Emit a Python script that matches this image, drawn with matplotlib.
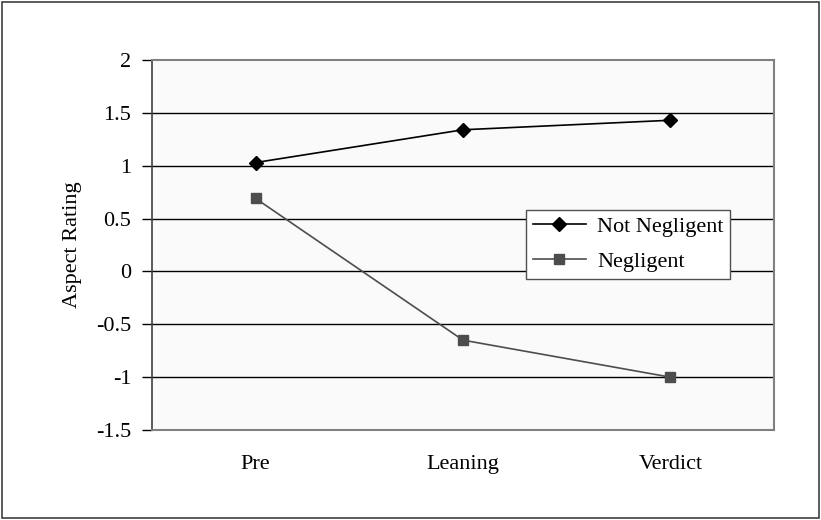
import matplotlib
matplotlib.use("Agg")
import matplotlib.pyplot as plt
from matplotlib.patches import Rectangle

categories = ["Pre", "Leaning", "Verdict"]
not_negligent = [1.03, 1.34, 1.43]
negligent = [0.69, -0.65, -1.0]
y_ticks = [-1.5, -1, -0.5, 0, 0.5, 1, 1.5, 2]
y_tick_labels = ["-1.5", "-1", "-0.5", "0", "0.5", "1", "1.5", "2"]

plt.rcParams["font.family"] = ["Liberation Serif", "DejaVu Serif"]

fig = plt.figure(figsize=(8.21, 5.2), dpi=100)
fig.patches.append(Rectangle((0.003, 0.003), 0.994, 0.994, transform=fig.transFigure,
                             fill=False, edgecolor="#404040", linewidth=1.2))

ax = fig.add_axes([152 / 821, 1 - 430 / 520, (774 - 152) / 821, (430 - 60) / 520])
ax.set_facecolor("#FAFAFA")

x = list(range(len(categories)))
ax.plot(x, not_negligent, color="black", marker="D", markersize=7, linewidth=1.2,
        label="Not Negligent", zorder=3)
ax.plot(x, negligent, color="#4D4D4D", marker="s", markersize=7, linewidth=1.2,
        label="Negligent", zorder=3)

ax.set_xlim(-0.5, 2.5)
ax.set_ylim(-1.5, 2)
ax.set_yticks(y_ticks)
ax.set_yticklabels(y_tick_labels, fontsize=16)
ax.set_xticks(x)
ax.set_xticklabels(categories, fontsize=16)
ax.tick_params(axis="x", length=0, pad=18)
ax.tick_params(axis="y", length=7, width=1, direction="out", pad=8)

for yv in y_ticks[1:-1]:
    ax.axhline(yv, color="black", linewidth=1, zorder=1)

for side in ["top", "right", "bottom"]:
    ax.spines[side].set_color("#808080")
    ax.spines[side].set_linewidth(1.5)
ax.spines["left"].set_color("#404040")
ax.spines["left"].set_linewidth(1.2)

ax.set_ylabel("Aspect Rating", fontsize=16, labelpad=10)

leg = ax.legend(loc="upper left", bbox_to_anchor=((526 - 152) / 622, (430 - 210) / 370),
                borderaxespad=0, fontsize=16, frameon=True, fancybox=False, framealpha=1,
                edgecolor="#505050", handlelength=2.4, borderpad=0.3, labelspacing=0.65,
                handletextpad=0.5)
leg.get_frame().set_linewidth(1)
leg.get_frame().set_facecolor("white")

fig.savefig("out.png", dpi=100)
